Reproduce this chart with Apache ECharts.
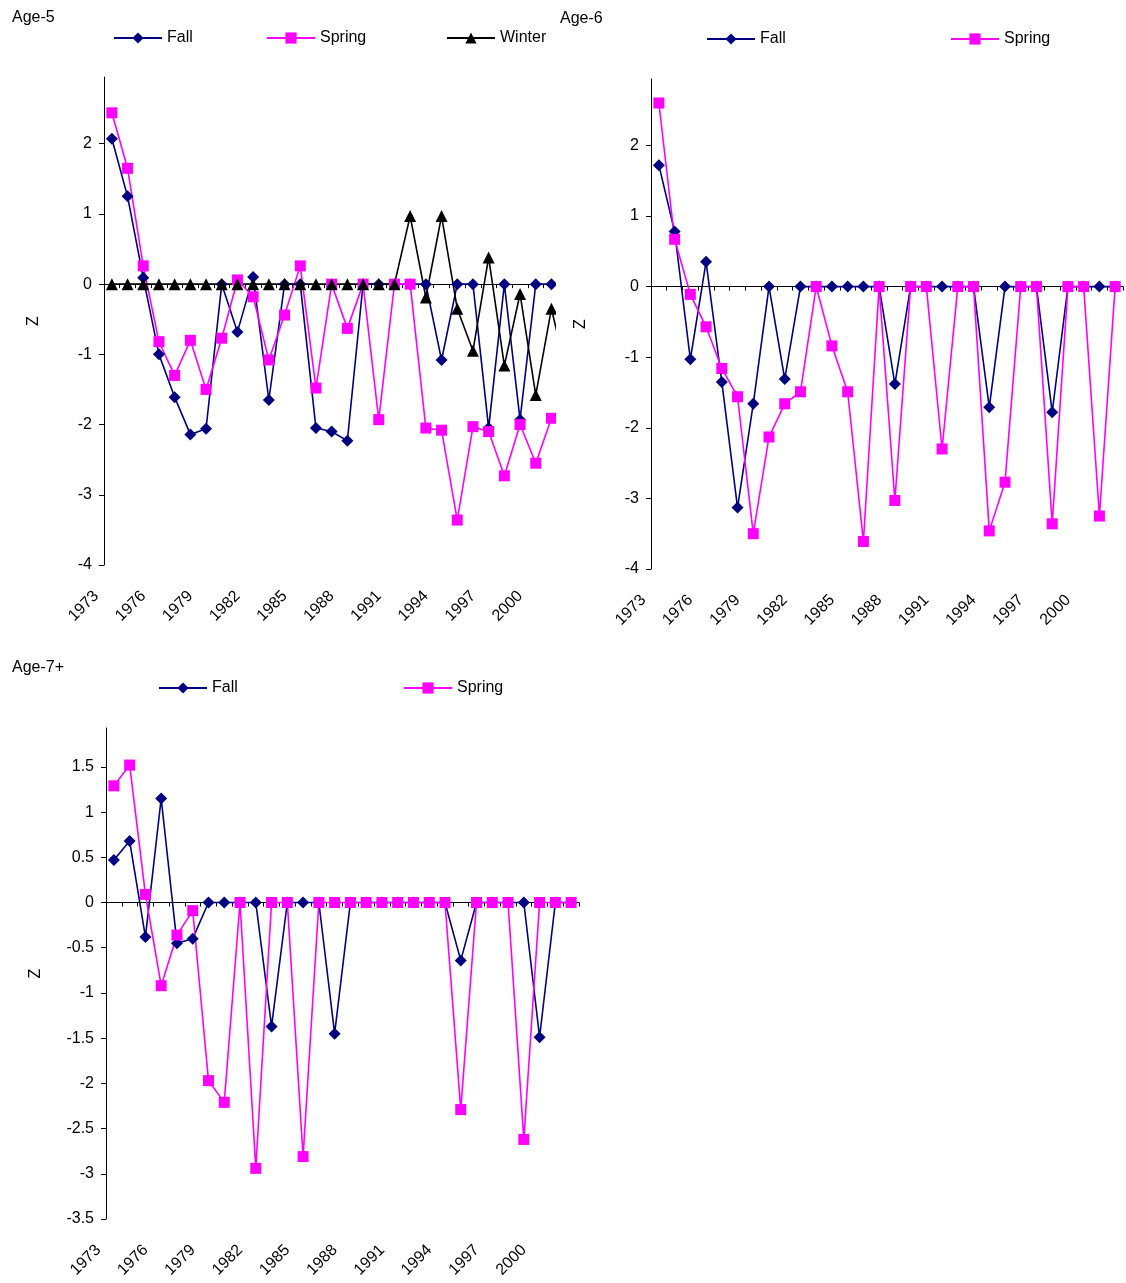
<!DOCTYPE html>
<html>
<head>
<meta charset="utf-8">
<title>Z by age</title>
<script src="https://cdn.jsdelivr.net/npm/echarts@6.0.0/dist/echarts.min.js"></script>
<style>
  html, body { margin: 0; padding: 0; background: #fff; }
  #chart { width: 1126px; height: 1283px; }
</style>
</head>
<body>
<div id="chart"></div>
<script>
// categories (survey years)
const years = ['1973', '1974', '1975', '1976', '1977', '1978', '1979', '1980', '1981', '1982',
  '1983', '1984', '1985', '1986', '1987', '1988', '1989', '1990', '1991', '1992',
  '1993', '1994', '1995', '1996', '1997', '1998', '1999', '2000', '2001', '2002'];

// Age-5
const age5Fall = [2.07, 1.25, 0.09, -1.0, -1.61, -2.14, -2.06, 0, -0.68, 0.1,
  -1.65, 0, 0, -2.05, -2.1, -2.23, 0, 0, 0, 0,
  0, -1.08, 0, 0, -2.05, 0, -1.93, 0, 0, null];
const age5Spring = [2.44, 1.65, 0.26, -0.82, -1.3, -0.8, -1.5, -0.77, 0.06, -0.18,
  -1.08, -0.44, 0.26, -1.48, 0, -0.63, 0, -1.93, 0, 0,
  -2.05, -2.08, -3.36, -2.03, -2.1, -2.73, -2.0, -2.55, -1.91, null];
const age5Winter = [0, 0, 0, 0, 0, 0, 0, 0, 0, 0,
  0, 0, 0, 0, 0, 0, 0, 0, 0, 0.97,
  -0.19, 0.97, -0.35, -0.95, 0.38, -1.16, -0.14, -1.58, -0.35, -1.3];

// Age-6
const age6Fall = [1.72, 0.78, -1.03, 0.35, -1.35, -3.13, -1.66, 0, -1.31, 0,
  0, 0, 0, 0, 0, -1.38, 0, 0, 0, 0,
  0, -1.71, 0, 0, 0, -1.78, 0, 0, 0, 0];
const age6Spring = [2.6, 0.67, -0.11, -0.57, -1.16, -1.56, -3.5, -2.13, -1.66, -1.49,
  0, -0.84, -1.49, -3.61, 0, -3.03, 0, 0, -2.3, 0,
  0, -3.46, -2.77, 0, 0, -3.36, 0, 0, -3.25, 0];

// Age-7+
const age7Fall = [0.47, 0.68, -0.38, 1.15, -0.45, -0.4, 0, 0, 0, 0,
  -1.37, 0, 0, 0, -1.45, 0, 0, 0, 0, 0,
  0, 0, -0.64, 0, 0, 0, 0, -1.49, 0, 0];
const age7Spring = [1.29, 1.52, 0.09, -0.92, -0.36, -0.09, -1.97, -2.21, 0, -2.94,
  0, 0, -2.81, 0, 0, 0, 0, 0, 0, 0,
  0, 0, -2.29, 0, 0, 0, -2.62, 0, 0, 0];

// y tick labels
const zTicks56 = [-4, -3, -2, -1, 0, 1, 2];
const zTicks7 = [-3.5, -3, -2.5, -2, -1.5, -1, -0.5, 0, 0.5, 1, 1.5];

const FONT = '"Liberation Sans", Arial, sans-serif';
const look = {
  Fall: { color: '#000080', symbol: 'diamond', size: 12 },
  Spring: { color: '#ff00ff', symbol: 'rect', size: 11 },
  Winter: { color: '#000000', symbol: 'triangle', size: 12 }
};

const panels = [
  {
    title: 'Age-5', titlePos: [12, 10],
    grid: { left: 104, top: 77, width: 471, height: 488 },
    min: -4, max: 2.95, interval: 1, ticks: zTicks56,
    series: { Fall: age5Fall, Spring: age5Spring, Winter: age5Winter },
    legend: [['Fall', 113, 30], ['Spring', 266, 30], ['Winter', 446, 30]]
  },
  {
    title: 'Age-6', titlePos: [560, 11],
    grid: { left: 651, top: 79, width: 472, height: 490 },
    min: -4, max: 2.94, interval: 1, ticks: zTicks56,
    series: { Fall: age6Fall, Spring: age6Spring },
    legend: [['Fall', 706, 31], ['Spring', 950, 31]]
  },
  {
    title: 'Age-7+', titlePos: [12, 660],
    grid: { left: 106, top: 728, width: 473, height: 491 },
    min: -3.5, max: 1.93, interval: 0.5, ticks: zTicks7,
    series: { Fall: age7Fall, Spring: age7Spring },
    legend: [['Fall', 158, 680], ['Spring', 403, 680]]
  }
];

const chart = echarts.init(document.getElementById('chart'), null, { renderer: 'canvas' });

const option = {
  animation: false,
  backgroundColor: '#fff',
  textStyle: { fontFamily: FONT },
  title: [],
  legend: [],
  grid: [],
  xAxis: [],
  yAxis: [],
  series: [],
  graphic: [
    // the left panel is cut off at its right edge in the original
    { type: 'rect', shape: { x: 556, y: 60, width: 22, height: 520 }, style: { fill: '#fff' }, z: 50 }
  ]
};

panels.forEach((p, i) => {
  option.title.push({
    text: p.title, left: p.titlePos[0], top: p.titlePos[1], padding: 0,
    textStyle: { fontSize: 16, fontWeight: 'normal', color: '#000', fontFamily: FONT }
  });
  p.legend.forEach(([name, x, y]) => {
    option.legend.push({
      data: [name], left: x, top: y, padding: 0, itemGap: 0,
      itemWidth: 48, itemHeight: 14, selectedMode: false,
      textStyle: { fontSize: 16, color: '#000', fontFamily: FONT }
    });
  });
  option.grid.push(Object.assign({ containLabel: false }, p.grid));

  // labels along the bottom
  option.xAxis.push({
    type: 'category', gridIndex: i, data: years, position: 'bottom',
    axisLine: { show: false, onZero: false },
    axisTick: { show: false },
    axisLabel: {
      interval: 2, rotate: 45, fontSize: 16, color: '#000', fontFamily: FONT,
      margin: 13, padding: [0, 22, 0, 0]
    },
    splitLine: { show: false }
  });
  // category line crossing at zero
  option.xAxis.push({
    type: 'category', gridIndex: i, data: years, position: 'bottom',
    axisLine: { show: true, onZero: true, lineStyle: { color: '#000', width: 1 } },
    axisTick: { show: true, interval: 0, length: 4, lineStyle: { color: '#000' } },
    axisLabel: { show: false },
    splitLine: { show: false }
  });

  option.yAxis.push({
    type: 'value', gridIndex: i, min: p.min, max: p.max, interval: p.interval,
    z: 60,
    axisLine: { show: true, lineStyle: { color: '#000', width: 1 } },
    axisTick: { show: true, length: 5, customValues: p.ticks, lineStyle: { color: '#000' } },
    axisLabel: { customValues: p.ticks, fontSize: 16, color: '#000', margin: 12, fontFamily: FONT },
    splitLine: { show: false },
    name: 'Z', nameLocation: 'middle', nameRotate: 90, nameGap: 62,
    nameTextStyle: { fontSize: 16, color: '#000', fontFamily: FONT }
  });

  Object.keys(p.series).forEach((name) => {
    const s = look[name];
    option.series.push({
      name: name, type: 'line', xAxisIndex: i * 2, yAxisIndex: i,
      data: p.series[name],
      symbol: s.symbol, symbolSize: s.size, showSymbol: true, showAllSymbol: true,
      lineStyle: { color: s.color, width: 1.6 },
      itemStyle: { color: s.color },
      emphasis: { disabled: true }
    });
  });
});

chart.setOption(option);
</script>
</body>
</html>
